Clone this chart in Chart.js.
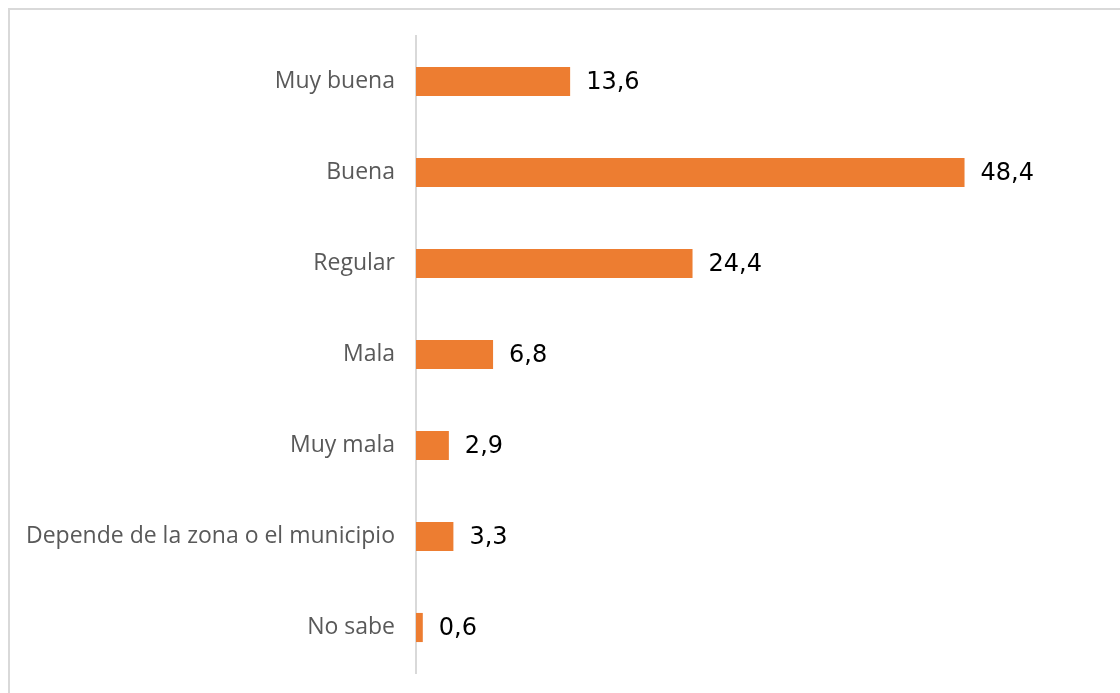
<!DOCTYPE html>
<html lang="es">
  <head>
    <meta charset="UTF-8" />
    <script src="https://cdn.jsdelivr.net/npm/chart.js@4.4.0/dist/chart.umd.min.js"></script>
    <title>Valoración</title>
    <style>
      body { margin: 0; padding: 0; background: #fff; }
      .container { width: 1120px; height: 693px; position: relative; }
    </style>
  </head>
  <body>
    <div class="container">
      <canvas id="chart"></canvas>
    </div>
    <script>
      const categories = ['Muy buena', 'Buena', 'Regular', 'Mala', 'Muy mala', 'Depende de la zona o el municipio', 'No sabe']
      const values = [13.6, 48.4, 24.4, 6.8, 2.9, 3.3, 0.6]

      const frame = {
        id: 'frame',
        beforeDraw(chart) {
          const c = chart.ctx
          c.save()
          c.strokeStyle = '#d9d9d9'
          c.lineWidth = 2
          c.strokeRect(9, 9, 1200, 800)
          c.restore()
        },
      }

      const valueLabels = {
        id: 'valueLabels',
        afterDatasetsDraw(chart) {
          const c = chart.ctx
          const meta = chart.getDatasetMeta(0)
          c.save()
          c.font = '24px "DejaVu Sans"'
          c.fillStyle = '#000'
          c.textBaseline = 'middle'
          meta.data.forEach((bar, i) => {
            c.fillText(values[i].toFixed(1).replace('.', ','), bar.x + 16, bar.y + 1)
          })
          c.restore()
        },
      }

      new Chart(document.getElementById('chart'), {
        type: 'bar',
        data: {
          labels: categories,
          datasets: [
            {
              data: values,
              backgroundColor: '#ed7d31',
              barPercentage: 0.64,
              categoryPercentage: 0.5,
            },
          ],
        },
        plugins: [frame, valueLabels],
        options: {
          indexAxis: 'y',
          responsive: true,
          maintainAspectRatio: false,
          animation: false,
          layout: { padding: { top: 36, bottom: 20, right: 24, left: 0 } },
          plugins: {
            legend: { display: false },
            tooltip: { enabled: false },
          },
          scales: {
            x: {
              display: false,
              min: 0,
              max: 60,
            },
            y: {
              afterFit: (scale) => {
                scale.width = 416
                scale.paddingTop = 0
                scale.paddingBottom = 0
              },
              grid: { display: false },
              border: { display: true, color: '#d9d9d9', width: 2 },
              ticks: {
                color: '#595959',
                padding: 13,
                font: { family: 'Open Sans', size: 23 },
              },
            },
          },
        },
      })
    </script>
  </body>
</html>
